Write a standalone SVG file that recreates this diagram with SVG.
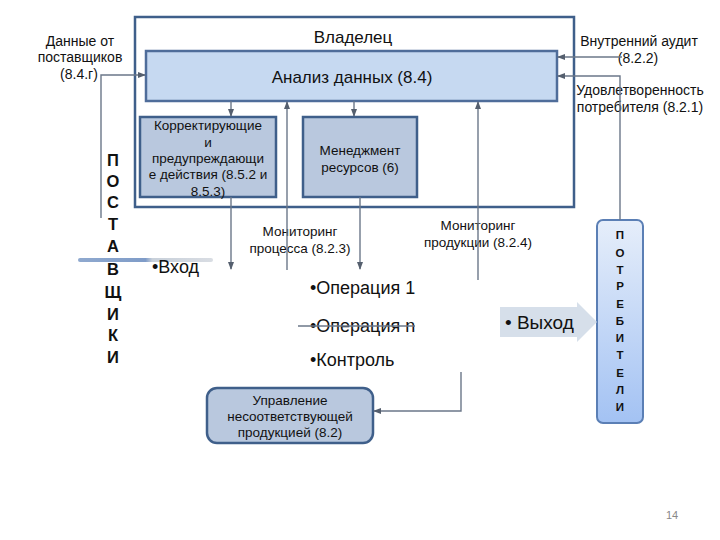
<svg xmlns="http://www.w3.org/2000/svg" width="720" height="540" viewBox="0 0 720 540">
<style>
text{font-family:"Liberation Sans",Arial,sans-serif;fill:#111}
.box{fill:#b9c8de;stroke:#3f5f8a;stroke-width:2.5}
.c{fill:none;stroke:#6b7789;stroke-width:1.4}
.sm{font-size:13.5px;text-anchor:middle}
.lbl{font-size:14px;text-anchor:middle}
.mon{font-size:13.5px;text-anchor:middle}
.big{font-size:18px}
.vl{font-size:16.5px;font-weight:bold;text-anchor:middle}
.vs{font-size:11.5px;font-weight:bold;text-anchor:middle}
</style>
<defs>
<marker id="a" viewBox="0 0 8 8" refX="7" refY="4" markerWidth="6" markerHeight="6" orient="auto">
<path d="M0,1 L8,4 L0,7 z" fill="#555f6e"/>
</marker>
<linearGradient id="cg" x1="0" y1="0" x2="0" y2="1">
<stop offset="0" stop-color="#e6eefa"/>
<stop offset="1" stop-color="#a3c2f3"/>
</linearGradient>
<linearGradient id="ig" x1="0" y1="0" x2="1" y2="0">
<stop offset="0" stop-color="#8fa9cf"/>
<stop offset="0.5" stop-color="#7f9cc8"/>
<stop offset="0.55" stop-color="#c8d0da"/>
<stop offset="1" stop-color="#d9dde3"/>
</linearGradient>
</defs>

<g id="owner">
<rect x="135" y="17" width="439" height="190" fill="#fff" stroke="#3f5f8a" stroke-width="2.5"/>
<text x="353" y="43" font-size="17" text-anchor="middle">Владелец</text>
</g>

<g id="analysis">
<rect x="146" y="51" width="411" height="50" fill="#c6d9f1" stroke="#4f6d9a" stroke-width="2.5"/>
<text x="352" y="83" font-size="17" text-anchor="middle">Анализ данных (8.4)</text>
</g>

<g id="corrective">
<rect class="box" x="140" y="117" width="136" height="80"/>
<text class="sm" x="208" y="130">Корректирующие</text>
<text class="sm" x="208" y="147">и</text>
<text class="sm" x="208" y="163">предупреждающи</text>
<text class="sm" x="208" y="179">е действия (8.5.2 и</text>
<text class="sm" x="208" y="196">8.5.3)</text>
</g>

<g id="resources">
<rect class="box" x="303" y="117" width="114" height="80"/>
<text class="sm" x="360" y="155">Менеджмент</text>
<text class="sm" x="360" y="172">ресурсов (6)</text>
</g>

<g id="nonconform">
<rect class="box" x="207" y="388" width="166" height="55" rx="10"/>
<text class="sm" x="290" y="405">Управление</text>
<text class="sm" x="290" y="421">несоответствующей</text>
<text class="sm" x="290" y="437">продукцией (8.2)</text>
</g>

<g id="consumers">
<rect x="597" y="220" width="46" height="203" rx="6" fill="url(#cg)" stroke="#5b7fb5" stroke-width="2"/>
<text class="vs" x="620" y="239">П</text>
<text class="vs" x="620" y="257">О</text>
<text class="vs" x="620" y="274">Т</text>
<text class="vs" x="620" y="290">Р</text>
<text class="vs" x="620" y="308">Е</text>
<text class="vs" x="620" y="325">Б</text>
<text class="vs" x="620" y="342">И</text>
<text class="vs" x="620" y="359">Т</text>
<text class="vs" x="620" y="377">Е</text>
<text class="vs" x="620" y="394">Л</text>
<text class="vs" x="620" y="411">И</text>
</g>

<g id="suppliers">
<text class="vl" x="113" y="166">П</text>
<text class="vl" x="113" y="187">О</text>
<text class="vl" x="113" y="208">С</text>
<text class="vl" x="113" y="230">Т</text>
<text class="vl" x="113" y="252">А</text>
<text class="vl" x="113" y="275">В</text>
<text class="vl" x="113" y="298">Щ</text>
<text class="vl" x="113" y="320">И</text>
<text class="vl" x="113" y="341">К</text>
<text class="vl" x="113" y="363">И</text>
</g>

<g id="input">
<rect x="78" y="258" width="135" height="4" rx="2" fill="url(#ig)"/>
<text class="big" x="152" y="273">•Вход</text>
</g>

<g id="operations">
<text class="big" x="310" y="294">•Операция 1</text>
<text class="big" x="310" y="332">•Операция n</text>
<text class="big" x="310" y="366">•Контроль</text>
</g>

<g id="output">
<path d="M500,307 H577 V302 L597,322 L577,342 V337 H500 Z" fill="#d6dfea"/>
<text x="505" y="329" font-size="19">• Выход</text>
</g>

<g id="labels">
<text class="lbl" x="80" y="46">Данные от</text>
<text class="lbl" x="80" y="62">поставщиков</text>
<text class="lbl" x="79" y="79">(8.4.г)</text>
<text class="lbl" x="639" y="46">Внутренний аудит</text>
<text class="lbl" x="638" y="63">(8.2.2)</text>
<text class="lbl" x="640" y="95">Удовлетворенность</text>
<text class="lbl" x="640" y="112">потребителя (8.2.1)</text>
<text class="mon" x="300" y="236">Мониторинг</text>
<text class="mon" x="300" y="253">процесса (8.2.3)</text>
<text class="mon" x="478" y="230">Мониторинг</text>
<text class="mon" x="478" y="247">продукции (8.2.4)</text>
<text x="672" y="519" font-size="11" text-anchor="middle" style="fill:#888">14</text>
</g>

<g id="connectors">
<path class="c" d="M101,218 V75 H145" marker-end="url(#a)"/>
<path class="c" d="M622,57 H558" marker-end="url(#a)"/>
<path class="c" d="M620,220 V76 H558" marker-end="url(#a)"/>
<path class="c" d="M231,101 V116" marker-end="url(#a)"/>
<path class="c" d="M354,101 V116" marker-end="url(#a)"/>
<path class="c" d="M231,197 V269" marker-end="url(#a)"/>
<path class="c" d="M360,197 V269" marker-end="url(#a)"/>
<path class="c" d="M287,270 V102" marker-end="url(#a)"/>
<path class="c" d="M478,280 V102" marker-end="url(#a)"/>
<path class="c" d="M461,372 V411 H374" marker-end="url(#a)"/>
<path class="c" d="M298,326 H415"/>
</g>
</svg>
